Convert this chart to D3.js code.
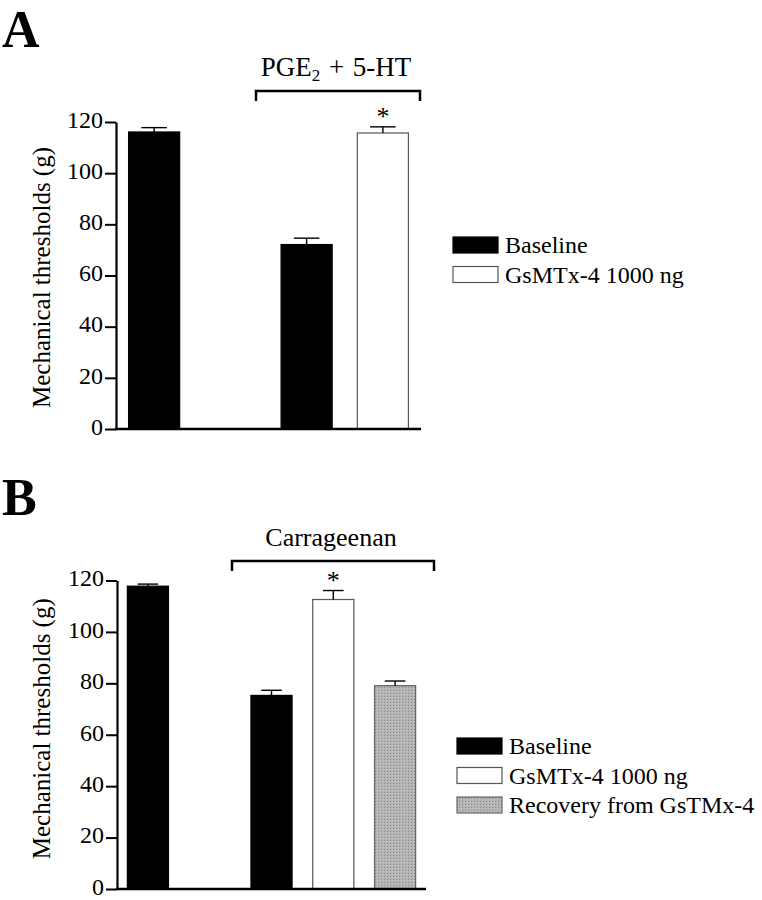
<!DOCTYPE html>
<html><head><meta charset="utf-8">
<script src="https://cdn.jsdelivr.net/npm/d3@7"></script>
<style>body{margin:0;background:#fff}svg{display:block;font-family:"Liberation Serif","Times New Roman",serif}</style>
</head><body>
<svg id="chart" width="762" height="900"></svg>
<script>
// ---- data ----
const ticks = [0, 20, 40, 60, 80, 100, 120];
const yTitle = "Mechanical thresholds (g)";

const slotsA = ["pre", "gap", "base", "gsmtx"];
const valuesA = [116.1, null, 72.1, 115.7];
const errorsA = [1.7, null, 2.5, 2.4];
const groupA = ["Baseline", null, "Baseline", "GsMTx-4 1000 ng"];
const sigA = [false, false, false, true];
const legendA = ["Baseline", "GsMTx-4 1000 ng"];

const slotsB = ["pre", "gap", "base", "gsmtx", "recovery"];
const valuesB = [117.8, null, 75.3, 112.6, 79.1];
const errorsB = [0.8, null, 2.0, 3.5, 1.8];
const groupB = ["Baseline", null, "Baseline", "GsMTx-4 1000 ng", "Recovery from GsTMx-4"];
const sigB = [false, false, false, true, false];
const legendB = ["Baseline", "GsMTx-4 1000 ng", "Recovery from GsTMx-4"];

const svg = d3.select("#chart");
const defs = svg.append("defs");
const pat = defs.append("pattern").attr("id", "stipple").attr("width", 3).attr("height", 3).attr("patternUnits", "userSpaceOnUse");
pat.append("rect").attr("width", 3).attr("height", 3).attr("fill", "#b4b4b4");
pat.append("rect").attr("width", 1).attr("height", 1).attr("fill", "#8c8c8c");
pat.append("rect").attr("x", 2).attr("y", 1).attr("width", 1).attr("height", 1).attr("fill", "#c8c8c8");

const fills = {"Baseline": "#000", "GsMTx-4 1000 ng": "#fff", "Recovery from GsTMx-4": "url(#stipple)"};
const strokes = {"Baseline": "#000", "GsMTx-4 1000 ng": "#555", "Recovery from GsTMx-4": "#666"};

function panel(cfg) {
  const g = svg.append("g");
  const x = d3.scaleBand().domain(cfg.slots).range([cfg.x0, cfg.x1]).padding(0);
  const y = d3.scaleLinear().domain([0, 120]).range([cfg.y0, cfg.y1]);
  const bw = x.bandwidth() * cfg.barFrac;
  const cx = s => x(s) + x.bandwidth() / 2;

  // panel letter
  g.append("text").attr("x", 2).attr("y", cfg.letterY).attr("font-size", 52).attr("font-weight", "bold").text(cfg.letter);

  // y axis
  const ya = g.append("g").attr("transform", `translate(${cfg.x0},0)`)
    .call(d3.axisLeft(y).tickValues(ticks).tickSizeInner(11).tickSizeOuter(0).tickPadding(2).tickFormat(d3.format("d")));
  ya.select(".domain").attr("stroke", "#000").attr("stroke-width", 2.2);
  ya.selectAll(".tick line").attr("stroke", "#000").attr("stroke-width", 2);
  ya.selectAll(".tick text").attr("font-size", 24).attr("dy", "0.22em").attr("font-family", "Liberation Serif").attr("fill", "#000");

  // bars
  const data = cfg.slots.map((s, i) => ({s, v: cfg.values[i], e: cfg.errors[i], grp: cfg.groups[i], sig: cfg.sig[i]})).filter(d => d.v != null);
  g.selectAll("rect.bar").data(data).join("rect").attr("class", "bar")
    .attr("x", d => cx(d.s) - bw / 2).attr("width", bw)
    .attr("y", d => y(d.v)).attr("height", d => y(0) - y(d.v))
    .attr("fill", d => fills[d.grp]).attr("stroke", d => strokes[d.grp]).attr("stroke-width", 1.2);
  // error bars
  data.forEach(d => {
    g.append("line").attr("x1", cx(d.s)).attr("x2", cx(d.s)).attr("y1", y(d.v)).attr("y2", y(d.v + d.e)).attr("stroke", "#000").attr("stroke-width", 1.4);
    g.append("line").attr("x1", cx(d.s) - bw / 4).attr("x2", cx(d.s) + bw / 4).attr("y1", y(d.v + d.e)).attr("y2", y(d.v + d.e)).attr("stroke", "#000").attr("stroke-width", 1.4);
    if (d.sig) g.append("text").attr("x", cx(d.s)).attr("y", y(d.v + d.e) - 2).attr("text-anchor", "middle").attr("font-size", 26).text("*");
  });

  // x axis line
  g.append("line").attr("x1", cfg.x0 - 1).attr("x2", cfg.x1).attr("y1", y(0)).attr("y2", y(0)).attr("stroke", "#000").attr("stroke-width", 2.5);

  // y title
  g.append("text").attr("transform", `translate(${cfg.titleX},${(y(0) + y(120)) / 2 + cfg.titleShift}) rotate(-90)`)
    .attr("text-anchor", "middle").attr("font-size", 25).text(yTitle);

  // bracket
  const bx0 = cfg.bracket[0], bx1 = cfg.bracket[1], by = cfg.bracketY;
  g.append("path").attr("d", `M${bx0},${by + 10}V${by}H${bx1}V${by + 10}`).attr("fill", "none").attr("stroke", "#000").attr("stroke-width", 2.5);
  const lbl = g.append("text").attr("x", (bx0 + bx1) / 2 - 2).attr("y", by - 15).attr("text-anchor", "middle").attr("font-size", 26);
  cfg.bracketLabel(lbl);

  // legend
  cfg.legend.forEach((name, i) => {
    const ly = cfg.legendY + i * 29.5;
    g.append("rect").attr("x", cfg.legendX).attr("y", ly).attr("width", 45).attr("height", 16)
      .attr("fill", fills[name]).attr("stroke", strokes[name]).attr("stroke-width", 1.2);
    g.append("text").attr("x", cfg.legendX + 52).attr("y", ly + 16).attr("font-size", 24).text(name);
  });
}

panel({
  letter: "A", letterY: 47,
  slots: slotsA, values: valuesA, errors: errorsA, groups: groupA, sig: sigA,
  x0: 116, x1: 421, y0: 429, y1: 122, barFrac: 0.67, titleX: 50, titleShift: 2,
  bracket: [256, 420], bracketY: 91,
  bracketLabel: t => { t.append("tspan").text("PGE"); t.append("tspan").attr("font-size", 17).attr("dy", 5).text("2"); t.append("tspan").attr("dy", -5).attr("xml:space", "preserve").text(" + 5-HT"); t.attr("font-size", 27).attr("word-spacing", 2); },
  legend: legendA, legendX: 453, legendY: 237
});

panel({
  letter: "B", letterY: 515,
  slots: slotsB, values: valuesB, errors: errorsB, groups: groupB, sig: sigB,
  x0: 117, x1: 426, y0: 889, y1: 580.5, barFrac: 0.665, titleX: 50, titleShift: -6,
  bracket: [232, 434], bracketY: 561,
  bracketLabel: t => t.text("Carrageenan"),
  legend: legendB, legendX: 457, legendY: 738
});
</script>
</body></html>
